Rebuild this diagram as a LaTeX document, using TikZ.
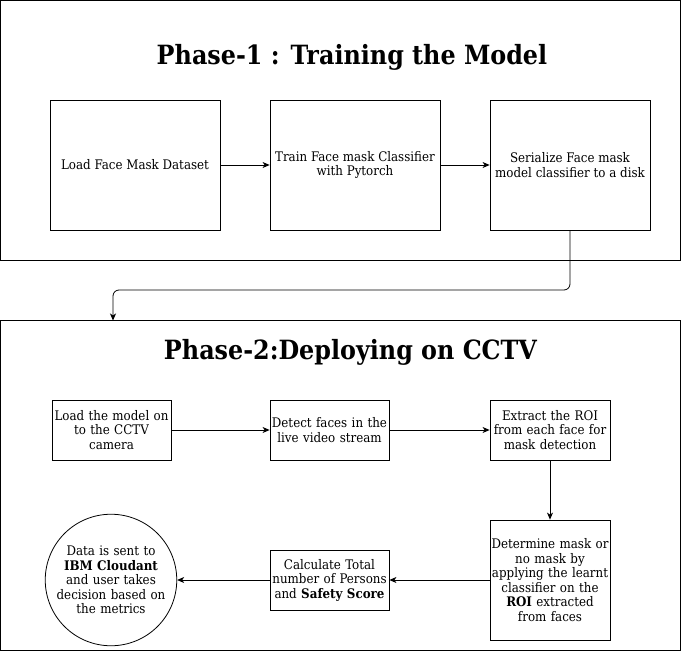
\documentclass[tikz,border=0pt]{standalone}
\usepackage{fontspec}
\setmainfont{DejaVu Serif Condensed}
\usetikzlibrary{arrows.meta}
\begin{document}
\begin{tikzpicture}[x=1pt,y=-1pt,
  frame/.style={draw,line width=0.8pt},
  box/.style={draw,line width=0.8pt,align=center,font=\fontsize{13.2}{14.5}\selectfont,inner sep=1pt},
  ttl/.style={font=\fontsize{26.5}{30}\selectfont\bfseries},
  arr/.style={draw,line width=0.8pt,-{Stealth[length=7pt,width=6pt,inset=2pt]}}]
\useasboundingbox (0,0) rectangle (681,651);
\draw[fill=white,draw=none] (0,0) rectangle (681,651);
% Phase 1
\path[frame] (0.5,0.5) rectangle (680.5,260.5);
\node[ttl] (t1) at (352,57) {Phase-1 : Training the Model};
\node[box,minimum width=170,minimum height=130] (a1) at (135,165) {Load Face Mask Dataset};
\node[box,minimum width=170,minimum height=130] (a2) at (355,165) {Train Face mask Classifier\\with Pytorch};
\node[box,minimum width=160,minimum height=130] (a3) at (570,165) {Serialize Face mask\\model classifier to a disk};
\draw[arr] (a1) -- (a2);
\draw[arr] (a2) -- (a3);
% Phase 2
\path[frame] (0.5,320.5) rectangle (680.5,650.5);
\coordinate (p2in) at (113,320.5);
\draw[arr,rounded corners=6pt] (a3.south) -- (570,290) -- (113,290) -- (p2in);
\node[ttl] (t2) at (350.5,352) {Phase-2:Deploying on CCTV};
\node[box,minimum width=119,minimum height=60,text width=117] (b1) at (111.5,430) {Load the model on\\to the CCTV\\camera};
\node[box,minimum width=119,minimum height=60,text width=117] (b2) at (329.5,430) {Detect faces in the\\live video stream};
\node[box,minimum width=120,minimum height=60,text width=118] (b3) at (550,430) {Extract the ROI\\from each face for\\mask detection};
\node[box,minimum width=120,minimum height=120,text width=118] (b4) at (550,580) {Determine mask or\\no mask by\\applying the learnt\\classifier on the\\\textbf{ROI} extracted\\from faces};
\node[box,minimum width=119,minimum height=60,text width=117] (b5) at (329.5,580) {Calculate Total\\number of Persons\\and \textbf{Safety Score}};
\node[box,circle,minimum size=120,text width=110] (b6) at (111,580) {Data is sent to\\\textbf{IBM Cloudant}\\and user takes\\decision based on\\the metrics};
\draw[arr] (b1) -- (b2);
\draw[arr] (b2) -- (b3);
\draw[arr] (b3) -- (b4);
\draw[arr] (b4) -- (b5);
\draw[arr] (b5) -- (b6);
\end{tikzpicture}
\end{document}
